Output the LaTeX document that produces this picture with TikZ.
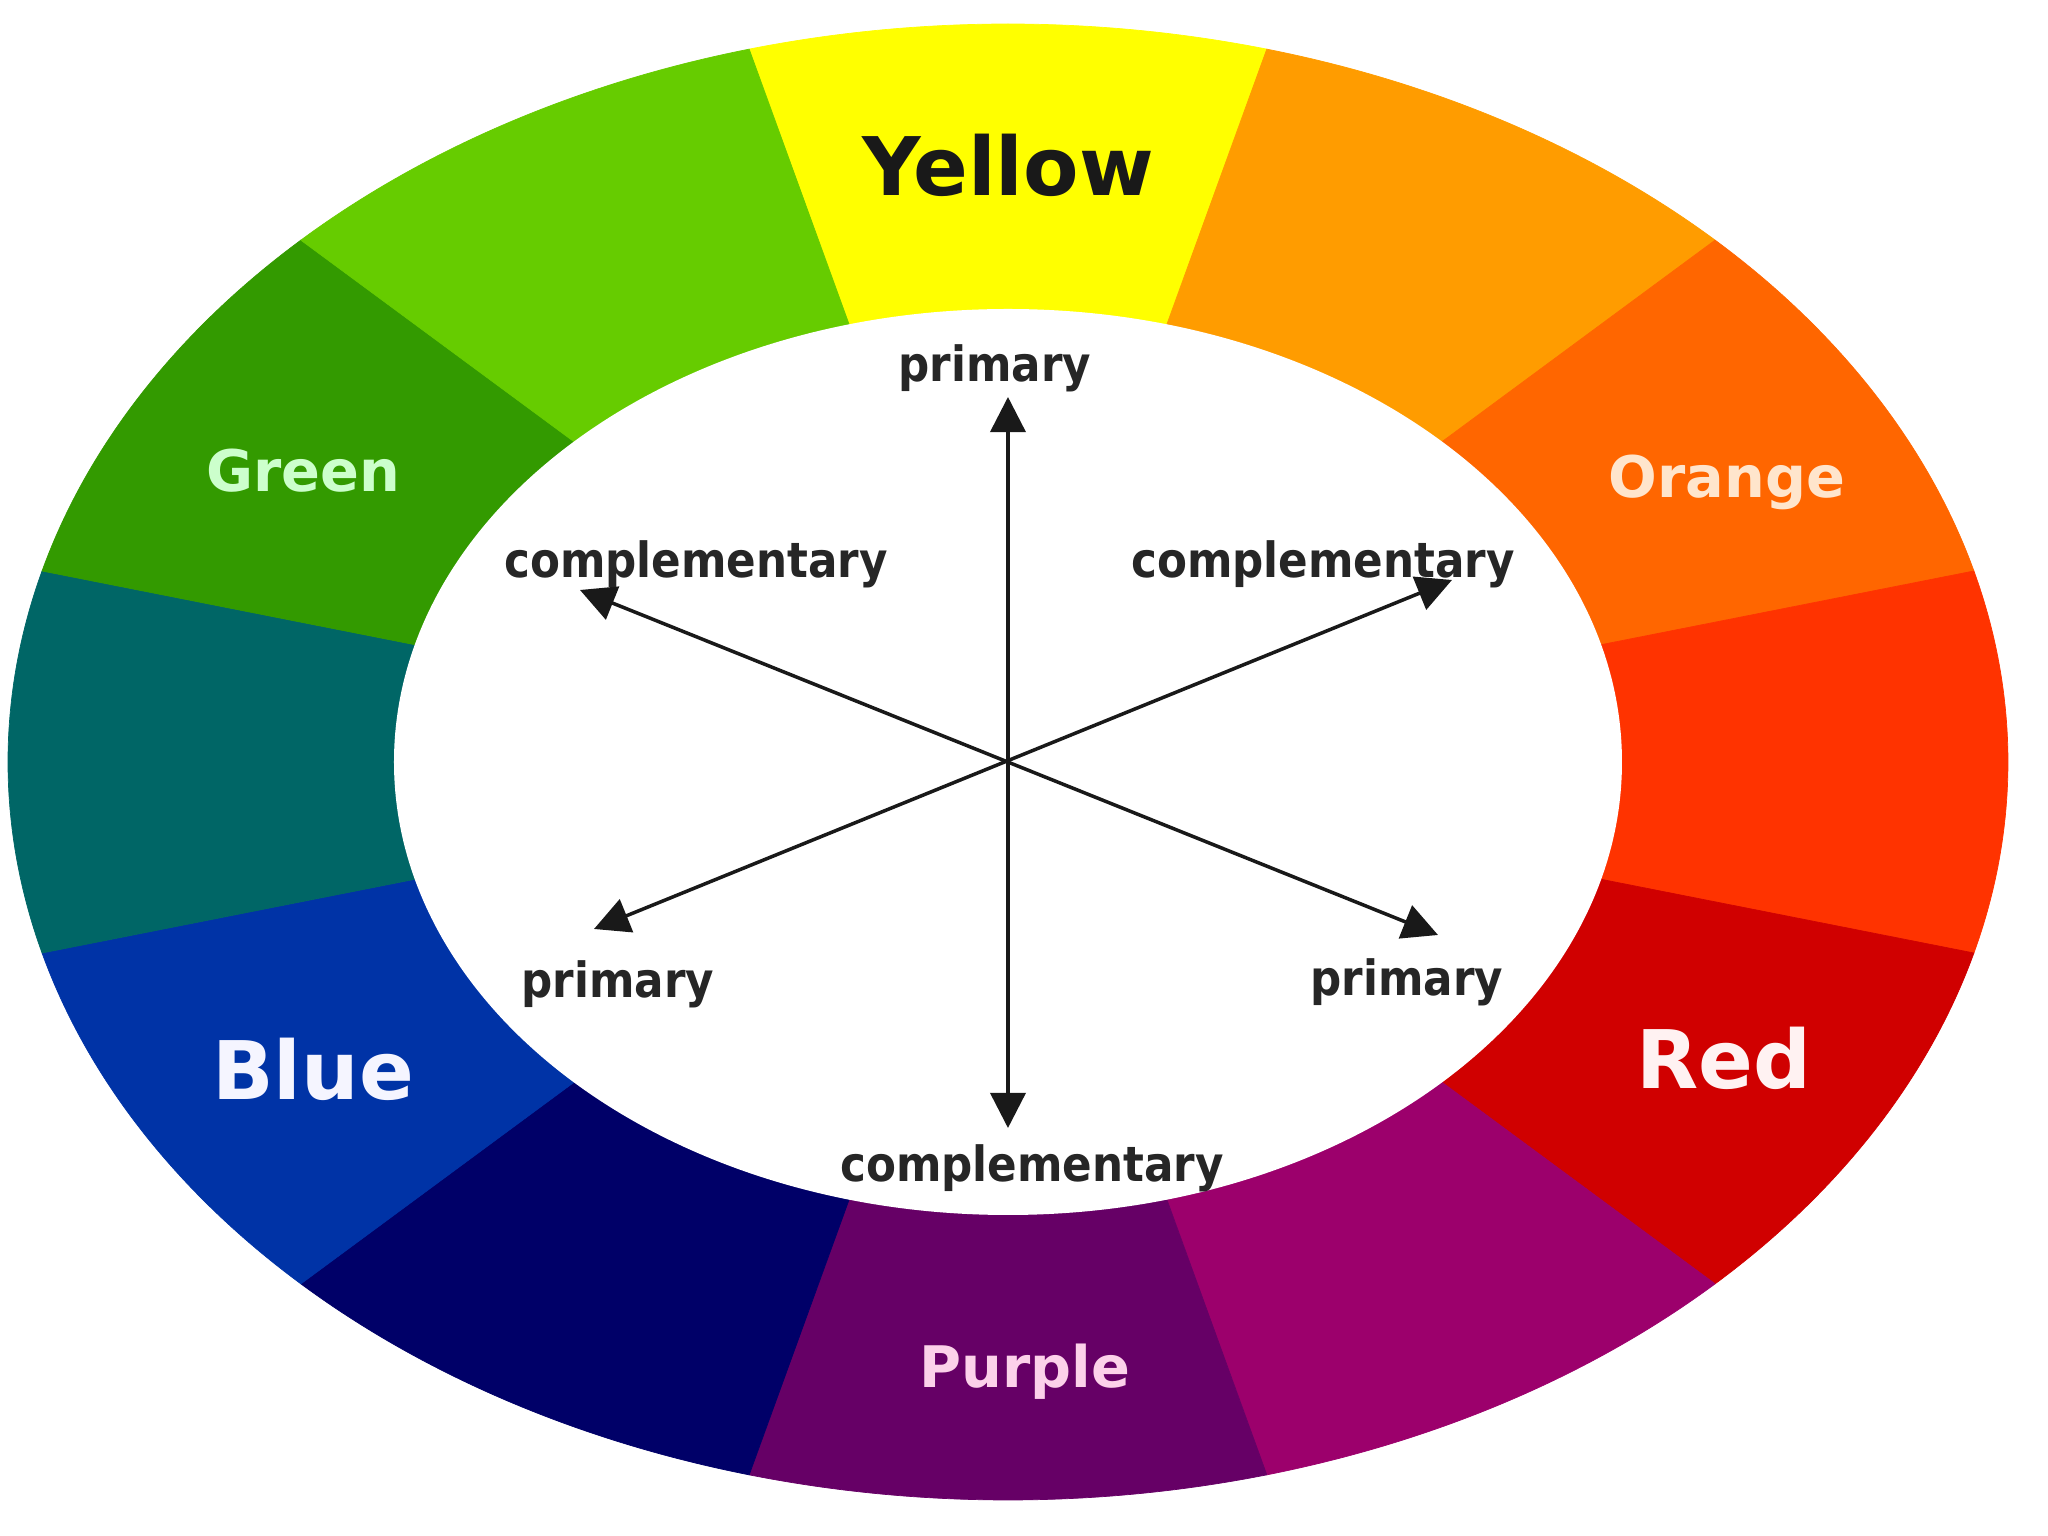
\documentclass[tikz,border=0pt]{standalone}
\usepackage{fontspec}
\setmainfont{DejaVu Sans}
\newfontfamily\narrowfont[FakeStretch=0.9]{DejaVu Sans}
\usetikzlibrary{arrows.meta}
\definecolor{wYellow}{HTML}{FFFF00}
\definecolor{wYellowOrange}{HTML}{FF9C00}
\definecolor{wOrange}{HTML}{FF6600}
\definecolor{wRedOrange}{HTML}{FF3300}
\definecolor{wRed}{HTML}{D00000}
\definecolor{wRedViolet}{HTML}{9C006C}
\definecolor{wViolet}{HTML}{660066}
\definecolor{wBlueViolet}{HTML}{000068}
\definecolor{wBlue}{HTML}{0033A6}
\definecolor{wBlueGreen}{HTML}{006666}
\definecolor{wGreen}{HTML}{339A00}
\definecolor{wYellowGreen}{HTML}{66CC00}
\tikzset{
  hue_name/.style={font=\bfseries\fontsize{16.3}{18}\selectfont},
  main_name/.style={font=\bfseries\fontsize{23}{26}\selectfont},
  relation/.style={font=\narrowfont\bfseries\fontsize{13.8}{15}\selectfont, text=black!85},
  pointer/.style={{Triangle[length=10pt,width=10pt]}-{Triangle[length=10pt,width=10pt]}, line width=1pt, black!90},
}

\begin{document}
\begin{tikzpicture}
  \useasboundingbox (-10.08,-7.74) rectangle (10.40,7.62);
  % colour ring
  \foreach \a/\col in {75/wYellow, 45/wYellowOrange, 15/wOrange, -15/wRedOrange,
                       -45/wRed, -75/wRedViolet, -105/wViolet, -135/wBlueViolet,
                       -165/wBlue, 165/wBlueGreen, 135/wGreen, 105/wYellowGreen}
    \fill[\col, draw=\col, line width=0.2pt] (0,0) -- (\a:10 and 7.38)
      arc[start angle=\a, delta angle=30, x radius=10, y radius=7.38] -- cycle;
  \fill[white] (0,0) ellipse [x radius=6.14, y radius=4.53];

  % names on the ring
  \node (yellow) [main_name, text=black!90] at (0,5.97) {Yellow};
  \node (green) [hue_name, text=green!20] at (-7.05,2.91) {Green};
  \node (orange) [hue_name, text=orange!20] at (7.19,2.80) {Orange};
  \node (blue) [main_name, text=blue!4] at (-6.95,-3.07) {Blue};
  \node (red) [main_name, text=red!5] at (7.16,-2.96) {Red};
  \node (purple) [hue_name, text=magenta!18] at (0.17,-6.10) {Purple};

  % arrows
  \coordinate (up) at (0,3.65);
  \coordinate (down) at (0,-3.66);
  \coordinate (ul) at (-4.28,1.72);
  \coordinate (lr) at (4.3,-1.73);
  \coordinate (ll) at (-4.14,-1.67);
  \coordinate (ur) at (4.44,1.82);
  \draw[pointer] (up) -- (down);
  \draw[pointer] (ul) -- (lr);
  \draw[pointer] (ll) -- (ur);

  \node (prim_top) [relation] at (-0.13,3.94) {primary};
  \node (comp_ul) [relation] at (-3.12,1.98) {complementary};
  \node (comp_ur) [relation] at (3.15,1.98) {complementary};
  \node (prim_ll) [relation] at (-3.90,-2.22) {primary};
  \node (prim_lr) [relation] at (3.99,-2.20) {primary};
  \node (comp_bot) [relation] at (0.24,-4.06) {complementary};
\end{tikzpicture}
\end{document}
